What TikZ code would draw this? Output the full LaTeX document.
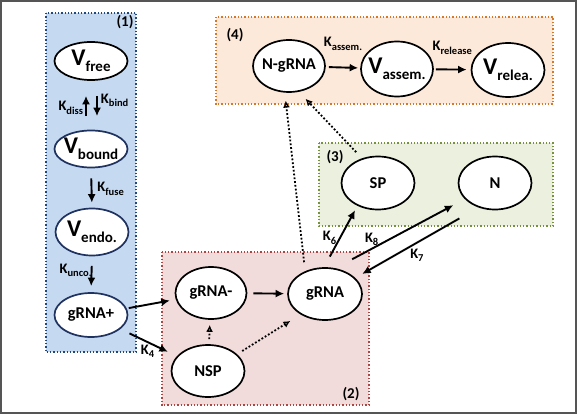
\documentclass[tikz,border=0pt]{standalone}
\usepackage{fontspec}
\setmainfont{Carlito}
\usepackage{xcolor}
\usepackage{tikz}
\usetikzlibrary{arrows.meta}
\usetikzlibrary{shapes.geometric}
\definecolor{boxblue}{RGB}{197,217,241}
\definecolor{lineblue}{RGB}{31,73,125}
\definecolor{boxred}{RGB}{242,220,219}
\definecolor{linered}{RGB}{170,70,68}
\definecolor{boxgreen}{RGB}{235,241,222}
\definecolor{linegreen}{RGB}{118,146,60}
\definecolor{boxorange}{RGB}{253,233,217}
\definecolor{lineorange}{RGB}{214,120,40}
\definecolor{darknavy}{RGB}{31,50,96}
\definecolor{framegray}{RGB}{85,85,85}
\tikzset{>={Latex[length=8.5pt,width=8pt]}}
\tikzstyle{comp} = [ellipse, draw=black, line width=1.7pt, fill=white, inner sep=-6pt, minimum width=73pt, minimum height=52pt, font=\fontsize{16.5}{18}\selectfont\bfseries]
\tikzstyle{region} = [dotted, line width=1.3pt]
\tikzstyle{flow} = [->, line width=1.9pt]
\tikzstyle{weak} = [-{Latex[open,length=7pt,width=7pt]}, dotted, line width=1.8pt]
\tikzstyle{rate} = [draw=none, inner sep=2pt, font=\fontsize{14.5}{15}\selectfont\bfseries]
\tikzstyle{tag} = [inner sep=0pt, font=\fontsize{15}{16}\selectfont\bfseries]
\newcommand{\Vsub}[1]{{\fontsize{24}{24}\selectfont V}\raisebox{-6pt}{\fontsize{15}{15}\selectfont #1}}
\newcommand{\Ksub}[1]{K\raisebox{-3.5pt}{\fontsize{10.5}{11}\selectfont #1}}

\begin{document}
\begin{tikzpicture}[x=1pt, y=-1pt]
\useasboundingbox (0,0) rectangle (577,414);
% compartments
\draw [region, draw=lineblue, fill=boxblue] (46,13) rectangle (136,352);
\draw [region, draw=linered, fill=boxred] (162,252) rectangle (369,405);
\draw [region, draw=linegreen, fill=boxgreen] (319,143) rectangle (553,226);
\draw [region, draw=lineorange, fill=boxorange] (216,17) rectangle (553,104);
\node [tag] (tag1) at (125,22) {(1)};
\node [tag] (tag2) at (351,394) {(2)};
\node [tag] (tag3) at (335,157) {(3)};
\node [tag] (tag4) at (235,35) {(4)};
\draw [line width=2pt, draw=framegray] (1,1) rectangle (576,413);

% entry
\node [comp, minimum height=38pt] (Vfree) at (91,61) {\Vsub{free}};
\node [comp, draw=darknavy, minimum height=37pt] (Vbound) at (91,149) {\Vsub{bound}};
\node [comp, draw=darknavy, minimum height=47pt] (Vendo) at (92,232) {\Vsub{endo.}};
\node [comp, draw=darknavy, minimum height=44pt] (gRNAp) at (91,315) {gRNA+};
% replication
\node [comp, minimum width=71pt] (gRNAm) at (211,293) {gRNA-};
\node [comp, minimum width=74pt] (gRNA) at (325,294) {gRNA};
\node [comp] (NSP) at (208,371) {NSP};
% translation
\node [comp, minimum height=53pt] (SP) at (378,183) {SP};
\node [comp, minimum height=53pt] (N) at (495,183) {N};
% assembly
\node [comp, minimum width=72pt] (NgRNA) at (289,66) {N-gRNA};
\node [comp, minimum width=72pt, minimum height=55pt] (Vassem) at (397,69) {\Vsub{assem.}};
\node [comp, minimum height=54pt] (Vrelea) at (508,70) {\Vsub{relea.}};

\draw [flow, shorten <=13.5pt, shorten >=15pt] ([xshift=-5pt]Vbound.north) to node[pos=0.45, rate, left] {\Ksub{diss}} ([xshift=-5pt]Vfree.south);
\draw [flow, shorten <=15pt, shorten >=13.5pt] ([xshift=6pt]Vfree.south) to node[pos=0.4, rate, right=1pt] {\Ksub{bind}} ([xshift=6pt]Vbound.north);
\draw [flow, shorten <=10pt, shorten >=5pt] (Vbound.south) to node[pos=0.52, rate, right=3pt] {\Ksub{fuse}} (Vendo.north);
\draw [flow, shorten <=9.5pt, shorten >=6pt] (Vendo.south) to node[pos=0.39, rate, left=-3pt] {\Ksub{unco.}} (gRNAp.north);
\draw [flow, shorten <=2pt, shorten >=6pt] (gRNAp) to (gRNAm);
\draw [flow, shorten <=10pt, shorten >=10pt] (gRNAp) to node[pos=0.48, rate, below] {\Ksub{4}} (NSP);
\draw [flow, shorten <=6pt, shorten >=3pt] (gRNAm) to (gRNA);
\draw [weak, shorten <=5pt, shorten >=5pt] (NSP) to (gRNAm);
\draw [weak, shorten <=6pt, shorten >=12pt] (NSP.30) to (gRNA.220);
\draw [flow, shorten <=12pt, shorten >=5pt] (gRNA.92) to node[pos=0.48, rate, left=1pt] {\Ksub{6}} (SP.228);
\draw [flow, shorten <=19pt, shorten >=13pt] (gRNA.68) to node[pos=0.28, rate, above] {\Ksub{8}} (N.208);
\draw [flow, shorten <=22pt, shorten >=8pt] (N.236) to node[pos=0.5, rate, below=3pt] {\Ksub{7}} (gRNA.28);
\draw [weak, shorten <=9pt, shorten >=8pt] (gRNA.131) to (NgRNA.261);
\draw [weak, shorten <=8.5pt, shorten >=9.5pt] (SP.123) to (NgRNA.291);
\draw [flow, shorten <=3pt, shorten >=2pt] (NgRNA) to node[pos=0.5, rate, above=14pt] {\Ksub{assem.}} (Vassem);
\draw [flow, shorten <=2pt, shorten >=4pt] (Vassem) to node[pos=0.5, rate, above=12pt] {\Ksub{release}} (Vrelea);
\end{tikzpicture}
\end{document}
